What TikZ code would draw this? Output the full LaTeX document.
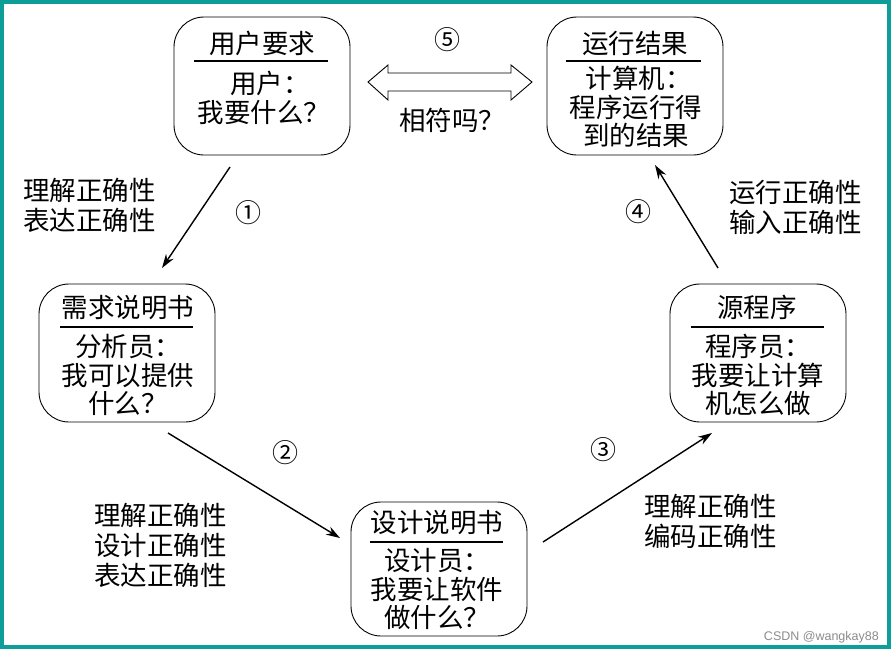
\documentclass[tikz,border=0pt]{standalone}
\usepackage{fontspec}
\usetikzlibrary{arrows.meta}
\newfontfamily\cjk{Noto Sans CJK SC}
\newfontfamily\wmf{Liberation Sans}
\definecolor{frame}{HTML}{0E9E9A}
\begin{document}
\begin{tikzpicture}[x=1pt,y=-1pt,
  box/.style={draw, line width=0.9pt, rounded corners=30pt, minimum width=176pt, minimum height=138pt, inner sep=0pt},
  ttl/.style={font=\cjk\fontsize{26.5}{28}\selectfont, inner sep=0pt},
  body/.style={align=center, font=\cjk\fontsize{26.5}{28.5}\selectfont, inner sep=0pt},
  side/.style={align=left, font=\cjk\fontsize{26.5}{30}\selectfont, inner sep=0pt},
  flow/.style={-{Stealth[length=14pt,width=9pt]}, line width=1.4pt},
  num/.style={font=\cjk\fontsize{26}{26}\selectfont, inner sep=0pt},
  rule/.style={line width=1.2pt}]
\useasboundingbox (0,0) rectangle (894,654);
\fill[white] (0,0) rectangle (894,654);
\draw[frame, line width=4pt] (1.5,1.5) rectangle (889,647);

% boxes
\node[box] (b1) at (262,86) {};
\node[box] (b2) at (635,86) {};
\node[box] (b3) at (127,353) {};
\node[box] (b4) at (758,353) {};
\node[box, minimum height=134pt] (b5) at (439,569) {};

% titles and rules
\node[ttl] (t1) at (262,43) {用户要求};
\draw[rule] (194,61) -- (328,61);
\node[body] (x1) at (264,98) {\ \ 用户：\\我要什么？};

\node[ttl] (t2) at (635,43) {运行结果};
\draw[rule] (566,61) -- (701,61);
\node[body] (x2) at (636,107) {\ 计算机：\\程序运行得\\到的结果};

\node[ttl] (t3) at (128,308) {需求说明书};
\draw[rule] (60,327) -- (193,327);
\node[body] (x3) at (128,375) {分析员：\\我可以提供\\什么？};

\node[ttl] (t4) at (757,307) {源程序};
\draw[rule] (691,327) -- (824,327);
\node[body] (x4) at (758,375) {程序员：\\我要让计算\\机怎么做};

\node[ttl] (t5) at (437,523) {设计说明书};
\draw[rule] (370,542) -- (503,542);
\node[body] (x5) at (437,589) {设计员：\\我要让软件\\做什么？};

% connectors
\coordinate (a1s) at (230,167); \coordinate (a1e) at (162,268);
\coordinate (a2s) at (168,433); \coordinate (a2e) at (340,538);
\coordinate (a3s) at (543,542); \coordinate (a3e) at (712,433);
\coordinate (a4s) at (718,268); \coordinate (a4e) at (655,165);
\draw[flow] (a1s) -- (a1e);
\draw[flow] (a2s) -- (a2e);
\draw[flow] (a3s) -- (a3e);
\draw[flow] (a4s) -- (a4e);

% double arrow
\coordinate (dl) at (368,82);
\draw[line width=0.9pt, line join=miter] (dl) -- ++(20,-17) -- ++(0,8) -- ++(123,0) -- ++(0,-8) -- ++(21,17)
  -- ++(-21,18) -- ++(0,-9) -- ++(-123,0) -- ++(0,9) -- cycle;

% numbers
\node[num] (n1) at (248,213) {①};
\node[num] (n2) at (285,453) {②};
\node[num] (n3) at (603,450) {③};
\node[num] (n4) at (638,212) {④};
\node[num] (n5) at (447,40) {⑤};

% side labels
\node[side, anchor=west] (s1) at (23,205) {理解正确性\\表达正确性};
\node[side, anchor=west] (s2) at (94,545) {理解正确性\\设计正确性\\表达正确性};
\node[side, anchor=west] (s3) at (644,521) {理解正确性\\编码正确性};
\node[side, anchor=west] (s4) at (729,207) {运行正确性\\输入正确性};
\node[body] (s5) at (452,120) {相符吗？};

\node[font=\wmf\fontsize{12.5}{14}\selectfont, text=black!45, anchor=east, inner sep=0pt] (wm) at (879,637) {CSDN @wangkay88};
\end{tikzpicture}
\end{document}
